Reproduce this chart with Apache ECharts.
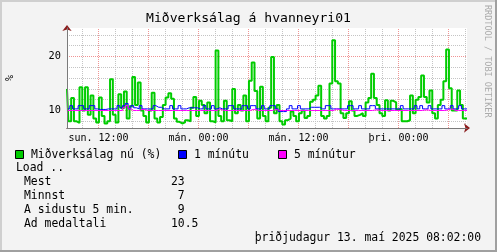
<!DOCTYPE html>
<html><head><meta charset="utf-8">
<script src="https://cdn.jsdelivr.net/npm/echarts@6/dist/echarts.min.js"></script>
<style>html,body{margin:0;padding:0;background:#f3f3f3}#c{width:497px;height:252px}</style>
</head><body><div id="c"></div><script>
// time axis: hours after "sun. 00:00"; samples every 20 minutes
const startHour = 8.22;
const stepHours = 1 / 3;

const loadNow = [
  14.0, 8.0, 12.3, 8.0, 7.7, 14.3, 10.0, 14.3, 9.2, 12.8,
  8.5, 7.8, 12.4, 9.0, 7.6, 8.0, 15.8, 9.2, 7.8, 13.0,
  10.4, 13.5, 8.5, 10.8, 16.2, 11.0, 15.2, 10.0, 9.0, 7.8,
  10.0, 13.3, 8.5, 7.8, 8.8, 11.0, 12.4, 13.2, 12.2, 8.5,
  7.9, 7.6, 7.8, 8.2, 8.0, 10.5, 12.5, 9.0, 11.8, 11.0,
  9.5, 11.5, 8.0, 7.8, 21.1, 9.0, 8.0, 11.8, 8.2, 8.0,
  14.0, 9.5, 11.0, 10.0, 12.8, 8.0, 15.5, 18.9, 13.6, 8.5,
  14.4, 9.0, 8.0, 10.5, 19.9, 9.5, 11.0, 8.0, 7.4, 8.2,
  8.5, 9.8, 9.0, 8.0, 9.5, 10.0, 8.6, 9.0, 11.6, 12.0,
  12.8, 14.6, 9.0, 8.5, 9.0, 15.0, 23.0, 15.4, 15.0, 9.5,
  8.6, 9.5, 11.7, 10.0, 9.0, 9.2, 9.5, 9.0, 11.5, 12.3,
  16.8, 12.3, 11.0, 9.5, 9.0, 11.9, 10.0, 11.8, 11.5, 10.2,
  10.3, 8.0, 8.0, 8.2, 12.8, 9.5, 12.0, 12.5, 16.5, 12.5,
  11.5, 13.7, 9.5, 8.5, 11.0, 12.0, 15.4, 21.3, 14.1, 10.0,
  10.0, 13.7, 11.0, 8.5, 8.5
];
const load1 = [
  10.3, 10.9, 10.3, 10.3, 10.9, 10.9, 10.3, 10.3, 10.9, 10.9,
  10.3, 10.2, 10.2, 10.2, 10.3, 10.3, 10.3, 10.3, 10.9, 10.5,
  10.9, 11.3, 10.3, 10.9, 10.5, 10.3, 10.9, 10.3, 10.3, 10.3,
  10.3, 10.9, 10.6, 10.6, 10.3, 10.3, 10.3, 10.9, 10.3, 10.3,
  10.9, 10.3, 10.3, 10.5, 10.5, 10.5, 10.5, 10.3, 10.3, 10.9,
  10.3, 10.3, 10.9, 10.3, 10.5, 10.3, 10.3, 10.3, 10.9, 10.9,
  10.3, 10.3, 10.3, 10.9, 10.9, 10.3, 10.9, 10.9, 10.3, 10.3,
  10.9, 10.3, 10.3, 10.9, 10.9, 10.3, 9.8, 9.8, 9.8, 10.3,
  10.9, 10.3, 10.3, 10.9, 10.3, 10.3, 10.3, 10.6, 10.6, 10.6,
  10.6, 10.3, 10.3, 10.9, 10.9, 10.3, 10.3, 10.3, 10.3, 10.3,
  10.3, 10.9, 10.9, 10.3, 10.3, 10.9, 10.3, 10.3, 10.3, 10.9,
  10.9, 10.3, 10.3, 10.3, 10.3, 10.3, 10.3, 10.3, 10.3, 10.3,
  10.9, 10.3, 10.3, 10.3, 10.3, 10.9, 10.3, 10.9, 10.3, 10.3,
  10.9, 10.3, 10.3, 10.3, 10.3, 10.9, 10.3, 10.3, 10.9, 10.3,
  10.3, 10.9, 10.3, 10.3, 10.3
];
const load5 = [
  10.0, 10.0, 10.0, 10.0, 10.0, 10.0, 10.0, 10.0, 10.0, 10.0,
  10.0, 10.0, 10.0, 10.0, 10.0, 10.0, 10.0, 10.0, 10.0, 10.0,
  10.5, 10.9, 10.3, 10.0, 10.0, 10.0, 10.2, 10.2, 10.0, 10.0,
  10.0, 10.0, 10.0, 10.0, 10.0, 10.0, 10.0, 10.0, 10.0, 10.0,
  10.0, 10.0, 10.0, 10.0, 10.0, 10.0, 10.0, 10.0, 10.0, 10.0,
  10.0, 10.0, 10.0, 10.0, 10.3, 10.1, 10.0, 10.0, 10.0, 10.0,
  10.0, 10.0, 10.0, 10.0, 10.0, 10.0, 10.2, 10.2, 10.0, 10.0,
  10.0, 10.0, 10.0, 10.0, 10.2, 10.1, 10.0, 10.0, 10.0, 10.0,
  10.0, 10.0, 10.0, 10.0, 10.0, 10.0, 10.0, 10.0, 10.0, 10.0,
  10.0, 10.0, 10.0, 10.0, 10.0, 10.0, 10.3, 10.2, 10.1, 10.0,
  10.0, 10.0, 10.0, 10.0, 10.0, 10.0, 10.0, 10.0, 10.0, 10.0,
  10.1, 10.1, 10.0, 10.0, 10.0, 10.0, 10.0, 10.0, 10.0, 10.0,
  10.0, 10.0, 10.0, 10.0, 10.0, 10.0, 10.0, 10.0, 10.1, 10.1,
  10.0, 10.0, 10.0, 10.0, 10.0, 10.0, 10.1, 10.3, 10.2, 10.0,
  10.0, 10.0, 10.0, 10.0, 10.0
];

const xLabelHours = [12, 24, 36, 48];
const xLabelText = ['sun. 12:00', 'mán. 00:00', 'mán. 12:00', 'þri. 00:00'];
const yLabelValues = [10, 20];
const majorXGrid = [12, 18, 24, 30, 36, 42, 48, 54];
const minorXGrid = [10, 14, 16, 20, 22, 26, 28, 32, 34, 38, 40, 44, 46, 50, 52, 56];
const majorYGrid = [10, 20];
const minorYGrid = [8, 12, 14, 16, 18, 22, 24];
const yMin = 6.76, yMax = 25.28;

const titleText = 'Miðverksálag á hvanneyri01';
const yUnit = '%';
const legendNames = ['Miðverksálag nú (%)', '1 mínútu', '5 mínútur'];
const legendColors = ['#00cc00', '#0000ff', '#ff00ff'];
const statHeader = 'Load ..';
const statLabels = ['Mest', 'Minnst', 'A sidustu 5 min.', 'Ad medaltali'];
const statValues = ['23', ' 7', ' 9', '10.5'];
const footerText = 'þriðjudagur 13. maí 2025 08:02:00';
const watermark = 'RRDTOOL / TOBI OETIKER';

const MONO = '"DejaVu Sans Mono", monospace';
const times = loadNow.map((_, i) => startHour + i * stepHours);
const pair = arr => arr.map((v, i) => [times[i], v]);

const minorStyle = { color: '#c4c4c4', width: 1, type: [1, 1] };
const majorStyle = { color: '#f09494', width: 1, type: [1, 1] };
const gridLines = [].concat(
  minorXGrid.map(v => ({ xAxis: v, lineStyle: minorStyle })),
  minorYGrid.map(v => ({ yAxis: v, lineStyle: minorStyle })),
  majorXGrid.map(v => ({ xAxis: v, lineStyle: majorStyle })),
  majorYGrid.map(v => ({ yAxis: v, lineStyle: majorStyle }))
);

const txt = (x, y, text, size, extra) => Object.assign({
  type: 'text', x: x, y: y, silent: true,
  style: Object.assign({ text: text, font: size + 'px ' + MONO, fill: '#000', align: 'left', verticalAlign: 'middle' }, extra || {})
});

const graphics = [
  { type: 'rect', shape: { x: 0, y: 0, width: 497, height: 2 }, style: { fill: '#cfcfcf' }, silent: true },
  { type: 'rect', shape: { x: 0, y: 0, width: 2, height: 252 }, style: { fill: '#cfcfcf' }, silent: true },
  { type: 'rect', shape: { x: 0, y: 250, width: 497, height: 2 }, style: { fill: '#a0a0a0' }, silent: true },
  { type: 'rect', shape: { x: 495, y: 0, width: 2, height: 252 }, style: { fill: '#a0a0a0' }, silent: true },
  txt(248.5, 19, titleText, 13.1, { align: 'center' }),
  Object.assign(txt(10, 78, yUnit, 10, { align: 'center' }), { rotation: Math.PI / 2 }),
  Object.assign(txt(487.5, 5, watermark, 8.5, { fill: '#ababab' }), { rotation: -Math.PI / 2 }),
  txt(16, 168.3, statHeader, 11.4),
  txt(481, 238.5, footerText, 11.4, { align: 'right' })
];
const legendX = [15.5, 178.5, 278.5];
legendNames.forEach((n, k) => {
  graphics.push({ type: 'rect', silent: true, shape: { x: legendX[k], y: 150.5, width: 8, height: 8 },
    style: { fill: legendColors[k], stroke: '#000', lineWidth: 1 } });
  graphics.push(txt(legendX[k] + 15.5, 155, n, 11.4));
});
statLabels.forEach((s, k) => {
  const y = 182.3 + k * 13.9;
  graphics.push(txt(24, y, s, 11.4));
  graphics.push(txt(171, y, statValues[k], 11.4));
});

const chart = echarts.init(document.getElementById('c'), null, { renderer: 'canvas' });
const xMin = startHour, xMax = startHour + 48;
chart.setOption({
  animation: false,
  backgroundColor: '#f3f3f3',
  textStyle: { fontFamily: MONO },
  grid: { left: 67, top: 28, width: 400, height: 100, show: true, backgroundColor: '#ffffff', borderWidth: 0 },
  xAxis: [
    { type: 'value', min: xMin, max: xMax, position: 'bottom', z: 6,
      axisLine: { show: true, onZero: false, lineStyle: { color: '#7a7a7a', width: 1 } },
      axisTick: { show: false },
      splitLine: { show: false },
      axisLabel: { customValues: xLabelHours, margin: 5, fontSize: 10, color: '#000', fontFamily: MONO,
        formatter: v => xLabelText[xLabelHours.indexOf(v)] || '' } },
    { type: 'value', min: xMin, max: xMax, position: 'bottom', z: 5,
      axisLine: { show: true, onZero: false, symbol: ['none', 'arrow'], symbolSize: [7, 6], symbolOffset: [0, 3],
        lineStyle: { color: '#8b1c1c', width: 1 } },
      axisTick: { show: false }, splitLine: { show: false }, axisLabel: { show: false } }
  ],
  yAxis: [
    { type: 'value', min: yMin, max: yMax, position: 'left', z: 6,
      axisLine: { show: true, onZero: false, lineStyle: { color: '#7a7a7a', width: 1 } },
      axisTick: { show: false },
      splitLine: { show: false },
      axisLabel: { customValues: yLabelValues, margin: 6, fontSize: 10.3, color: '#000', fontFamily: MONO } },
    { type: 'value', min: yMin, max: yMax, position: 'left', z: 5,
      axisLine: { show: true, onZero: false, symbol: ['none', 'arrow'], symbolSize: [7, 6], symbolOffset: [0, 3],
        lineStyle: { color: '#8b1c1c', width: 1 } },
      axisTick: { show: false }, splitLine: { show: false }, axisLabel: { show: false } }
  ],
  series: [
    { type: 'line', name: legendNames[0], data: pair(loadNow), step: 'middle', showSymbol: false, silent: true, z: 2,
      lineStyle: { color: legendColors[0], width: 2 },
      markLine: { silent: true, z: 1, symbol: ['none', 'none'], label: { show: false }, emphasis: { disabled: true },
        animation: false, data: gridLines } },
    { type: 'line', name: legendNames[1], data: pair(load1), step: 'end', showSymbol: false, silent: true, z: 3,
      lineStyle: { color: legendColors[1], width: 1 } },
    { type: 'line', name: legendNames[2], data: pair(load5), step: 'end', showSymbol: false, silent: true, z: 4,
      lineStyle: { color: legendColors[2], width: 1 } }
  ],
  graphic: graphics
});
</script></body></html>
